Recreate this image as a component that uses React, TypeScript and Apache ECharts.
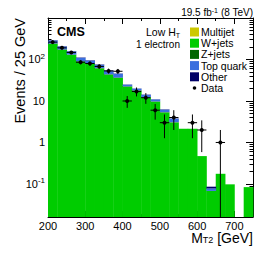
import React, { useEffect, useRef } from 'react';
import * as echarts from 'echarts';

// ---- data ----
const binLow = [200, 225, 250, 275, 300, 325, 350, 375, 400, 425, 450, 475, 500, 525, 550, 575, 600, 625, 650, 675, 700, 725];
const BIN_WIDTH = 25;
const multijet = [0, 0, 0, 0, 0, 0, 0, 0, 0, 0, 0, 0, 0, 0, 0, 0, 0, 0, 0, 0, 0, 0];
const wjets = [238, 171, 129, 89, 78, 61, 43, 35.8, 22, 17.6, 12.2, 9.6, 5.3, 3.05, 2.15, 2.15, 0.47, 0.068, 0.176, 0.098, 0, 0.084];
const zjets = [5, 4, 3, 2, 2, 1.5, 1.2, 1, 0.6, 0.4, 0.3, 0.2, 0.1, 0.05, 0, 0, 0, 0, 0, 0, 0, 0];
const topquark = [45, 31, 25, 19, 14, 12, 10, 8.5, 2.1, 1.8, 1.6, 1.1, 0.8, 0.65, 0, 0, 0, 0.01, 0, 0, 0, 0];
const other = [4, 3, 2, 2, 2, 1.5, 0.8, 0.7, 0.3, 0.2, 0.2, 0.1, 0.1, 0.05, 0, 0, 0, 0.008, 0, 0, 0, 0];
const dataCounts = [262, 191, 148, 86, 80, 68, 53, 52, 10, 17, 12, 6, 3, 4, 0, 3, 2, 0, 1, 0, 0, 0];

const xLabelValues = [200, 300, 400, 500, 600, 700];
const xMajorTicks = [300, 400, 500, 600, 700];
const xMinorTicks = [250, 350, 450, 550, 650];
const yLabelValues = [0.1, 1, 10, 100];
const yMinorTicks = [
  0.02, 0.03, 0.04, 0.05, 0.06, 0.07, 0.08, 0.09,
  0.2, 0.3, 0.4, 0.5, 0.6, 0.7, 0.8, 0.9,
  2, 3, 4, 5, 6, 7, 8, 9,
  20, 30, 40, 50, 60, 70, 80, 90,
  200, 300, 400, 500, 600, 700, 800, 900,
];

const X_MIN = 200;
const X_MAX = 750;
const Y_MIN = 0.016;
const Y_MAX = 1000;

const FONT = '"Liberation Sans", Arial, Helvetica, sans-serif';

const components = [
  { name: 'Multijet', color: '#cdc800', values: multijet },
  { name: 'W+jets', color: '#00cc00', values: wjets },
  { name: 'Z+jets', color: '#006600', values: zjets },
  { name: 'Top quark', color: '#3b6fde', values: topquark },
  { name: 'Other', color: '#000066', values: other },
];

function buildOption() {
  const cumulative = binLow.map(() => 0);
  const histSeries = components.map((c) => {
    const items: number[][] = [];
    binLow.forEach((x, i) => {
      const low = cumulative[i];
      const high = low + c.values[i];
      cumulative[i] = high;
      const lo = Math.max(low, Y_MIN);
      if (high > lo) items.push([x, x + BIN_WIDTH, lo, high]);
    });
    return {
      type: 'custom',
      name: c.name,
      xAxisIndex: 0,
      yAxisIndex: 0,
      itemStyle: { color: c.color },
      encode: { x: [0, 1], y: [2, 3] },
      renderItem: (_p: any, api: any) => {
        const a = api.coord([api.value(0), api.value(3)]);
        const b = api.coord([api.value(1), api.value(2)]);
        return {
          type: 'rect',
          shape: { x: a[0], y: a[1], width: b[0] - a[0] + 0.4, height: b[1] - a[1] },
          style: { fill: c.color },
        };
      },
      data: items,
      z: 1,
    };
  });

  const pts = binLow
    .map((x, i) => [x + BIN_WIDTH / 2, dataCounts[i]])
    .filter((d) => d[1] > 0);

  const dataSeries = {
    type: 'custom',
    name: 'Data',
    xAxisIndex: 0,
    yAxisIndex: 0,
    itemStyle: { color: '#000' },
    encode: { x: 0, y: 1 },
    z: 5,
    renderItem: (_p: any, api: any) => {
      const x = api.value(0);
      const n = api.value(1);
      const e = Math.sqrt(n);
      const c = api.coord([x, n]);
      const t = api.coord([x, Math.min(n + e, Y_MAX)]);
      const b = api.coord([x, Math.max(n - e, Y_MIN)]);
      const l = api.coord([x - BIN_WIDTH / 2, n]);
      const r = api.coord([x + BIN_WIDTH / 2, n]);
      const ls = { stroke: '#000', lineWidth: 1 };
      return {
        type: 'group',
        children: [
          { type: 'line', shape: { x1: c[0], y1: t[1], x2: c[0], y2: b[1] }, style: ls },
          { type: 'line', shape: { x1: l[0], y1: c[1], x2: r[0], y2: c[1] }, style: ls },
          { type: 'circle', shape: { cx: c[0], cy: c[1], r: 2 }, style: { fill: '#000' } },
        ],
      };
    },
    data: pts,
  };

  const lineStyle = { color: '#000', width: 1 };
  const xBase = { type: 'value', min: X_MIN, max: X_MAX, splitLine: { show: false } };
  const yBase = { type: 'log', logBase: 10, min: Y_MIN, max: Y_MAX, splitLine: { show: false } };

  const yFormatter = (v: number) => {
    const e = Math.round(Math.log10(v));
    if (e === 0) return '1';
    if (e === 1) return '10';
    return '10{sup|' + e + '}';
  };

  return {
    animation: false,
    backgroundColor: '#fff',
    grid: { left: 48, right: 13, top: 18, bottom: 38, containLabel: false, outerBoundsMode: 'none', show: false },
    xAxis: [
      {
        ...xBase,
        position: 'bottom',
        axisLine: { show: true, lineStyle },
        axisTick: { show: true, inside: true, length: 6, customValues: xMajorTicks, lineStyle },
        axisLabel: { show: true, customValues: xLabelValues, margin: 3, fontSize: 11, lineHeight: 11, color: '#000', fontFamily: FONT },
      },
      {
        ...xBase,
        position: 'bottom',
        axisLine: { show: false },
        axisTick: { show: true, inside: true, length: 3, customValues: xMinorTicks, lineStyle },
        axisLabel: { show: false },
      },
      {
        ...xBase,
        position: 'top',
        axisLine: { show: true, lineStyle },
        axisTick: { show: true, inside: true, length: 6, customValues: xMajorTicks, lineStyle },
        axisLabel: { show: false },
      },
      {
        ...xBase,
        position: 'top',
        axisLine: { show: false },
        axisTick: { show: true, inside: true, length: 3, customValues: xMinorTicks, lineStyle },
        axisLabel: { show: false },
      },
    ],
    yAxis: [
      {
        ...yBase,
        position: 'left',
        axisLine: { show: true, lineStyle },
        axisTick: { show: true, inside: true, length: 7, customValues: yLabelValues, lineStyle },
        axisLabel: {
          show: true,
          customValues: yLabelValues,
          margin: 3,
          fontSize: 11,
          lineHeight: 14,
          color: '#000',
          fontFamily: FONT,
          formatter: yFormatter,
          rich: { sup: { fontSize: 8, lineHeight: 8, verticalAlign: 'top', color: '#000', fontFamily: FONT } },
        },
      },
      {
        ...yBase,
        position: 'left',
        axisLine: { show: false },
        axisTick: { show: true, inside: true, length: 3.5, customValues: yMinorTicks, lineStyle },
        axisLabel: { show: false },
      },
      {
        ...yBase,
        position: 'right',
        axisLine: { show: true, lineStyle },
        axisTick: { show: true, inside: true, length: 7, customValues: yLabelValues, lineStyle },
        axisLabel: { show: false },
      },
      {
        ...yBase,
        position: 'right',
        axisLine: { show: false },
        axisTick: { show: true, inside: true, length: 3.5, customValues: yMinorTicks, lineStyle },
        axisLabel: { show: false },
      },
    ],
    legend: {
      orient: 'vertical',
      left: 190,
      top: 26.5,
      padding: 0,
      itemWidth: 9,
      itemHeight: 9,
      itemGap: 0.2,
      selectedMode: false,
      textStyle: { fontSize: 10.5, lineHeight: 10, fontFamily: FONT, color: '#000', padding: [0, 0, 0, -3] },
      data: [
        ...components.map((c) => ({ name: c.name, icon: 'rect' })),
        { name: 'Data', icon: 'path://M0,0M10,10M5,3A2,2,0,1,1,5,7A2,2,0,1,1,5,3Z' },
      ],
    },
    graphic: [
      {
        type: 'text',
        x: 57,
        y: 32,
        style: { text: 'CMS', fontSize: 12.5, fontWeight: 'bold', fontFamily: FONT, fill: '#000', align: 'left', verticalAlign: 'middle' },
      },
      {
        type: 'text',
        x: 180,
        y: 32,
        style: {
          text: 'Low H{sub|T}',
          fontSize: 10.5,
          lineHeight: 13,
          fontFamily: FONT,
          fill: '#000',
          align: 'right',
          verticalAlign: 'middle',
          rich: { sub: { fontSize: 7, lineHeight: 7, verticalAlign: 'bottom', fontFamily: FONT, fill: '#000' } },
        },
      },
      {
        type: 'text',
        x: 180,
        y: 44.5,
        style: { text: '1 electron', fontSize: 10, lineHeight: 11, fontFamily: FONT, fill: '#000', align: 'right', verticalAlign: 'middle' },
      },
      {
        type: 'text',
        x: 253,
        y: 12.5,
        style: {
          text: '19.5 fb{sup|-1} (8 TeV)',
          fontSize: 10,
          lineHeight: 12,
          fontFamily: FONT,
          fill: '#000',
          align: 'right',
          verticalAlign: 'middle',
          rich: { sup: { fontSize: 7, lineHeight: 7, verticalAlign: 'top', fontFamily: FONT, fill: '#000' } },
        },
      },
      {
        type: 'text',
        x: 253,
        y: 238,
        style: {
          text: 'M{sub|T2} [GeV]',
          fontSize: 14,
          lineHeight: 12,
          fontFamily: FONT,
          fill: '#000',
          align: 'right',
          verticalAlign: 'middle',
          rich: { sub: { fontSize: 9, lineHeight: 6, verticalAlign: 'bottom', fontFamily: FONT, fill: '#000' } },
        },
      },
      {
        type: 'text',
        x: 20,
        y: 18,
        rotation: Math.PI / 2,
        style: { text: 'Events / 25 GeV', fontSize: 14.5, fontFamily: FONT, fill: '#000', align: 'right', verticalAlign: 'middle' },
      },
    ],
    series: [...histSeries, dataSeries],
  };
}

export default function App() {
  const ref = useRef<HTMLDivElement>(null);
  useEffect(() => {
    if (!ref.current) return;
    const chart = echarts.init(ref.current, undefined, { renderer: 'svg' });
    chart.setOption(buildOption() as any);
    return () => chart.dispose();
  }, []);
  return <div ref={ref} style={{ position: 'fixed', left: 0, top: 0, width: 266, height: 255 }} />;
}
